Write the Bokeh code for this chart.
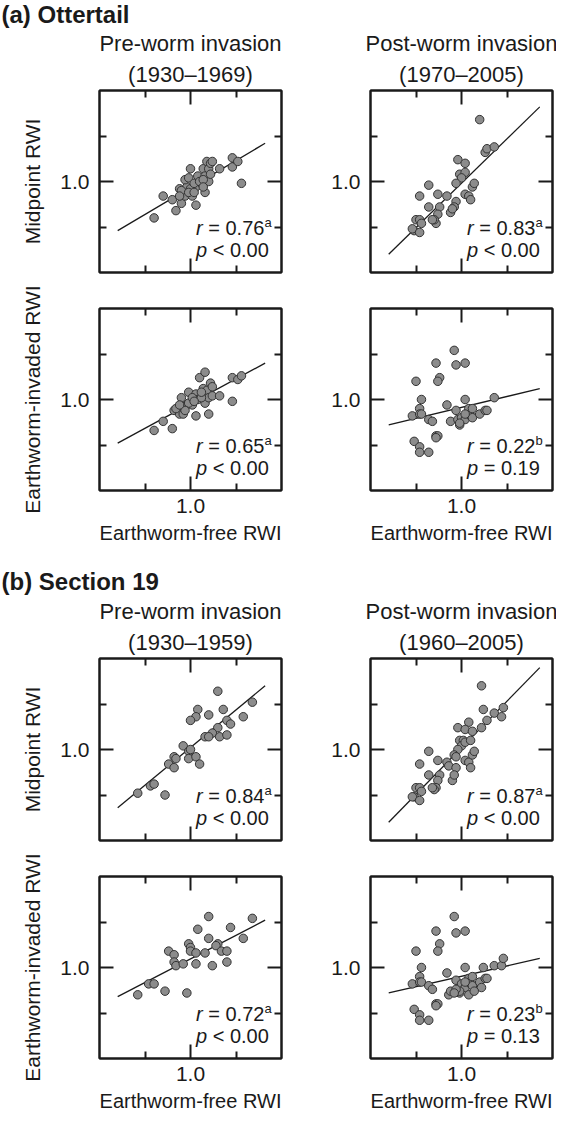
from bokeh.plotting import figure
from bokeh.models import (LinearAxis, FixedTicker, PrintfTickFormatter, Label, Range1d,
                          CustomLabelingPolicy)
from bokeh.layouts import column, row
from bokeh.embed import file_html
from bokeh.resources import INLINE

FONT = "Liberation Sans"
INK = "#1a1a1a"

# ---------------- data (RWI values) ----------------
section_titles = ["(a) Ottertail", "(b) Section 19"]
period_titles = [["(1930\u20131969)", "(1970\u20132005)"], ["(1930\u20131959)", "(1960\u20132005)"]]
phase_titles = ["Pre-worm invasion", "Post-worm invasion"]
y_labels = ["Midpoint RWI", "Earthworm-invaded RWI"]
x_label = "Earthworm-free RWI"

# Ottertail, pre, midpoint
a_pre_free_1 = [0.80,0.85,0.90,0.92,0.95,0.94,0.97,0.98,0.97,1.00,1.01,1.03,1.04,1.03,1.06,1.07,1.08,1.08,1.09,1.10,1.10,1.11,1.12,1.16,1.23,1.23,1.26,1.28,0.99,0.95,1.00,1.02,1.05,1.11,0.94,0.99,1.07,1.02,1.07]
a_pre_mid = [0.80,0.92,0.90,0.84,0.88,0.96,0.92,0.97,1.01,1.07,0.92,0.87,1.03,0.97,0.99,1.07,0.94,1.03,1.11,1.00,1.07,1.10,1.11,1.07,1.13,1.08,1.11,0.99,1.02,0.95,0.96,0.99,1.00,1.04,0.92,0.94,1.01,0.94,0.97]
# Ottertail, post, midpoint
a_post_free_1 = [1.10,1.13,1.14,1.18,0.98,1.02,0.99,1.02,1.00,0.97,0.82,0.77,0.87,0.92,1.02,1.04,1.05,1.06,1.07,0.97,0.96,0.94,0.82,0.88,0.87,0.86,0.85,0.84,0.75,0.77,0.74,0.73,0.77,0.78,0.95]
a_post_mid = [1.34,1.16,1.18,1.19,1.12,1.10,1.04,1.05,1.02,0.99,0.98,0.92,0.93,0.92,0.93,0.92,0.90,0.97,0.99,0.89,0.86,0.83,0.86,0.86,0.82,0.77,0.79,0.79,0.79,0.79,0.73,0.74,0.72,0.77,0.85]
# Ottertail, pre, invaded
a_pre_free_2 = [0.80,0.85,0.90,0.91,0.94,0.96,0.95,0.98,0.99,1.01,1.03,1.03,1.04,1.05,1.07,1.08,1.08,1.08,1.10,1.09,1.10,1.11,1.12,1.12,1.16,1.23,1.23,1.26,1.28,0.96,0.99,1.01,1.06,0.92,0.97,1.02,1.06,0.94]
a_pre_inv = [0.83,0.88,0.84,0.94,0.92,0.92,1.01,0.97,1.04,0.97,0.91,1.03,1.00,1.12,1.06,1.15,1.02,0.98,0.92,1.05,1.01,1.09,1.07,1.02,1.02,1.12,0.99,1.11,1.13,0.96,0.98,1.01,1.01,0.95,0.94,0.99,1.04,0.97]
# Ottertail, post, invaded
a_post_free_2 = [0.96,0.86,0.97,1.02,0.88,0.87,0.75,0.78,0.92,1.02,1.18,0.73,0.77,0.77,0.78,0.82,0.84,0.97,0.94,0.99,0.98,1.00,1.02,1.04,1.05,1.06,1.06,1.10,1.13,1.14,0.99,1.02,0.86,0.87,0.86,0.74,0.77,0.77,0.82]
a_post_inv = [1.27,1.20,1.19,1.20,1.12,1.10,1.10,1.00,0.97,1.00,1.01,0.91,0.95,0.92,0.92,0.89,0.88,0.94,0.88,0.86,0.89,0.90,0.89,0.95,0.91,0.95,0.90,0.92,0.94,0.94,0.87,0.92,0.80,0.80,0.79,0.77,0.74,0.71,0.71]
# Section 19, pre, midpoint
b_pre_free_1 = [1.15,1.34,1.04,1.18,1.10,1.03,1.00,1.29,1.20,1.22,1.15,1.12,1.16,1.20,1.08,1.10,0.96,0.99,1.00,0.99,1.03,1.05,0.91,0.92,0.88,0.91,0.78,0.80,0.71,0.86]
b_pre_mid = [1.32,1.26,1.22,1.22,1.19,1.18,1.16,1.18,1.16,1.14,1.12,1.09,1.07,1.08,1.07,1.07,1.02,0.99,1.00,0.95,0.96,0.92,0.96,0.95,0.92,0.90,0.80,0.81,0.76,0.75]
# Section 19, post, midpoint
b_post_free_1 = [1.11,1.12,1.23,1.18,1.22,1.14,1.11,1.04,0.98,1.02,1.06,0.99,1.01,1.00,1.02,1.05,0.98,0.96,0.97,0.82,0.77,0.87,0.92,0.93,0.97,1.02,1.04,1.05,1.06,1.07,0.82,0.88,0.87,0.86,0.85,0.84,0.95,0.96,0.75,0.77,0.74,0.73,0.77,0.78]
b_post_mid = [1.35,1.22,1.23,1.20,1.18,1.16,1.12,1.15,1.12,1.11,1.10,1.05,1.05,1.02,1.04,1.05,1.00,0.97,0.96,0.99,0.92,0.94,0.93,0.91,0.90,0.94,0.93,0.90,0.97,0.99,0.86,0.86,0.83,0.79,0.78,0.79,0.83,0.86,0.79,0.79,0.74,0.74,0.72,0.77]
# Section 19, pre, invaded
b_pre_free_2 = [1.10,1.34,1.22,1.04,1.10,1.29,0.99,1.00,1.00,0.88,1.15,1.14,1.17,1.20,1.03,1.08,0.91,0.91,0.92,0.96,1.03,1.12,1.20,0.77,0.80,0.71,0.86,0.98]
b_pre_inv = [1.28,1.27,1.22,1.21,1.16,1.16,1.13,1.11,1.09,1.09,1.13,1.12,1.09,1.09,1.08,1.08,1.07,1.03,1.01,1.02,1.02,1.01,1.03,0.91,0.91,0.85,0.87,0.86]
# Section 19, post, invaded
b_post_free_2 = [0.96,0.86,0.97,1.02,0.88,0.87,0.75,0.78,0.92,1.02,1.12,1.18,1.22,1.23,0.73,0.77,0.77,0.78,0.82,0.84,0.93,0.94,0.97,0.99,1.00,1.02,1.04,1.05,1.06,1.06,1.10,1.11,1.13,1.14,0.99,1.02,1.04,1.07,0.97,0.96,0.86,0.87,0.86,0.74,0.77,0.77,0.82]
b_post_inv = [1.28,1.20,1.19,1.20,1.13,1.09,1.09,1.00,0.97,1.00,1.00,1.01,1.01,1.05,0.91,0.95,0.92,0.92,0.90,0.88,0.85,0.87,0.93,0.86,0.91,0.89,0.94,0.91,0.95,0.90,0.92,0.89,0.94,0.94,0.87,0.92,0.85,0.87,0.88,0.86,0.80,0.80,0.79,0.77,0.74,0.71,0.71]

# fitted regression lines (end points)
fit_x = [[0.60,1.41],[0.60,1.43],[0.60,1.41],[0.60,1.43],[0.60,1.41],[0.60,1.43],[0.60,1.41],[0.60,1.43]]
fit_y = [[0.73,1.21],[0.60,1.41],[0.76,1.20],[0.86,1.06],[0.68,1.35],[0.60,1.45],[0.84,1.26],[0.86,1.05]]

r_values = ["0.76","0.83","0.65","0.22","0.84","0.87","0.72","0.23"]
r_sup = ["a","a","a","b","a","a","a","b"]
p_values = ["< 0.00","< 0.00","< 0.00","= 0.19","< 0.00","< 0.00","< 0.00","= 0.13"]

axis_range = (0.5, 1.5)
major_ticks = [1.0]
minor_ticks = [0.75, 1.25]

# ---------------- helpers ----------------
ARIAL = {' ':278,'.':278,'=':584,'<':584,'a':556,'b':556,'r':333,'p':556}
for d in "0123456789":
    ARIAL[d] = 556

def text_w(s, size):
    return sum(ARIAL.get(c, 556) for c in s) * size / 1000.0

FRAME = 182

HIDE_LABELS = """
try { for (let i = 0; i < indices.size; i++) { indices.unset(i) } } catch (e) {}
return indices
"""

def make_axis(labeled, standoff=5, label=None, label_size="21px", label_standoff=0):
    ax = LinearAxis(ticker=FixedTicker(ticks=major_ticks, minor_ticks=minor_ticks),
                    formatter=PrintfTickFormatter(format="%.1f"))
    ax.axis_line_color = INK
    ax.axis_line_width = 2
    ax.major_tick_in = 14
    ax.major_tick_out = 0
    ax.minor_tick_in = 7
    ax.minor_tick_out = 0
    ax.major_tick_line_color = INK
    ax.minor_tick_line_color = INK
    ax.major_tick_line_width = 2
    ax.minor_tick_line_width = 2
    if labeled:
        ax.major_label_text_font = FONT
        ax.major_label_text_font_size = "21px"
        ax.major_label_text_color = INK
        ax.major_label_standoff = standoff
    else:
        ax.major_label_text_font_size = "0px"
        ax.major_label_standoff = 0
        ax.major_label_policy = CustomLabelingPolicy(code=HIDE_LABELS)
    if label:
        ax.axis_label = label
        ax.axis_label_text_font = FONT
        ax.axis_label_text_font_size = label_size
        ax.axis_label_text_font_style = "normal"
        ax.axis_label_text_color = INK
        ax.axis_label_standoff = label_standoff
    return ax

def lab(p, x, y, text, size="20px", style="normal", align="left"):
    p.add_layout(Label(x=x, y=y, x_units="screen", y_units="screen", text=text,
                       text_font=FONT, text_font_size=size, text_font_style=style,
                       text_align=align, text_baseline="middle", text_color=INK))

def panel(i, xs, ys, is_left, ylab, top_title, bottom_labeled, mbt, mbb):
    p = figure(frame_width=FRAME, frame_height=FRAME,
               x_range=Range1d(*axis_range), y_range=Range1d(*axis_range),
               x_axis_type=None, y_axis_type=None, toolbar_location=None,
               output_backend="svg",
               min_border_top=mbt, min_border_bottom=mbb,
               min_border_left=99 if is_left else 70,
               min_border_right=19 if is_left else 4)
    p.outline_line_color = INK
    p.outline_line_width = 2
    p.add_layout(make_axis(True, standoff=10, label=ylab, label_size="21px", label_standoff=13), "left")
    p.add_layout(make_axis(False), "right")
    p.add_layout(make_axis(False, label=top_title, label_size="22px", label_standoff=4), "above")
    if bottom_labeled:
        p.add_layout(make_axis(True, standoff=8, label=x_label, label_size="20px", label_standoff=6), "below")
    else:
        p.add_layout(make_axis(False), "below")
    p.line(fit_x[i], fit_y[i], line_color=INK, line_width=1.3)
    p.scatter(xs, ys, marker="circle", size=8.5, fill_color="#8c8c8c",
              line_color="#333333", line_width=1)
    # statistics text (screen offsets from the frame's lower-left corner)
    x0 = 96.5
    lab(p, x0, 45, "r", style="italic")
    x1 = x0 + text_w("r", 20) + text_w(" ", 20)
    main = "= " + r_values[i]
    lab(p, x1, 45, main)
    lab(p, x1 + text_w(main, 20), 50, r_sup[i], size="13px")
    lab(p, x0, 23, "p", style="italic")
    lab(p, x0 + text_w("p", 20) + text_w(" ", 20), 23, p_values[i])
    return p

def header(h, k, centers):
    f = figure(width=556, height=h, x_axis_type=None, y_axis_type=None,
               toolbar_location=None, output_backend="svg", min_border=0,
               outline_line_color=None)
    lab(f, 1, centers[0], section_titles[k], size="24px", style="bold")
    for cx, j in zip([190, 461], [0, 1]):
        lab(f, cx, centers[1], phase_titles[j], size="22px", align="center")
    return f

hdr_a = header(58, 0, (44.2, 14.8))
p1 = panel(0, a_pre_free_1, a_pre_mid, True, y_labels[0], period_titles[0][0], False, 30, 2)
p2 = panel(1, a_post_free_1, a_post_mid, False, None, period_titles[0][1], False, 30, 2)
p3 = panel(2, a_pre_free_2, a_pre_inv, True, y_labels[1], None, True, 34, 55)
p4 = panel(3, a_post_free_2, a_post_inv, False, None, None, True, 34, 55)
hdr_b = header(80, 1, (45.2, 15.5))
p5 = panel(4, b_pre_free_1, b_pre_mid, True, y_labels[0], period_titles[1][0], False, 30, 2)
p6 = panel(5, b_post_free_1, b_post_mid, False, None, period_titles[1][1], False, 30, 2)
p7 = panel(6, b_pre_free_2, b_pre_inv, True, y_labels[1], None, True, 34, 53)
p8 = panel(7, b_post_free_2, b_post_inv, False, None, None, True, 34, 53)

layout = column(hdr_a, row(p1, p2), row(p3, p4), hdr_b, row(p5, p6), row(p7, p8))

open("out.html", "w").write(file_html(layout, INLINE, title="RWI correlations"))
